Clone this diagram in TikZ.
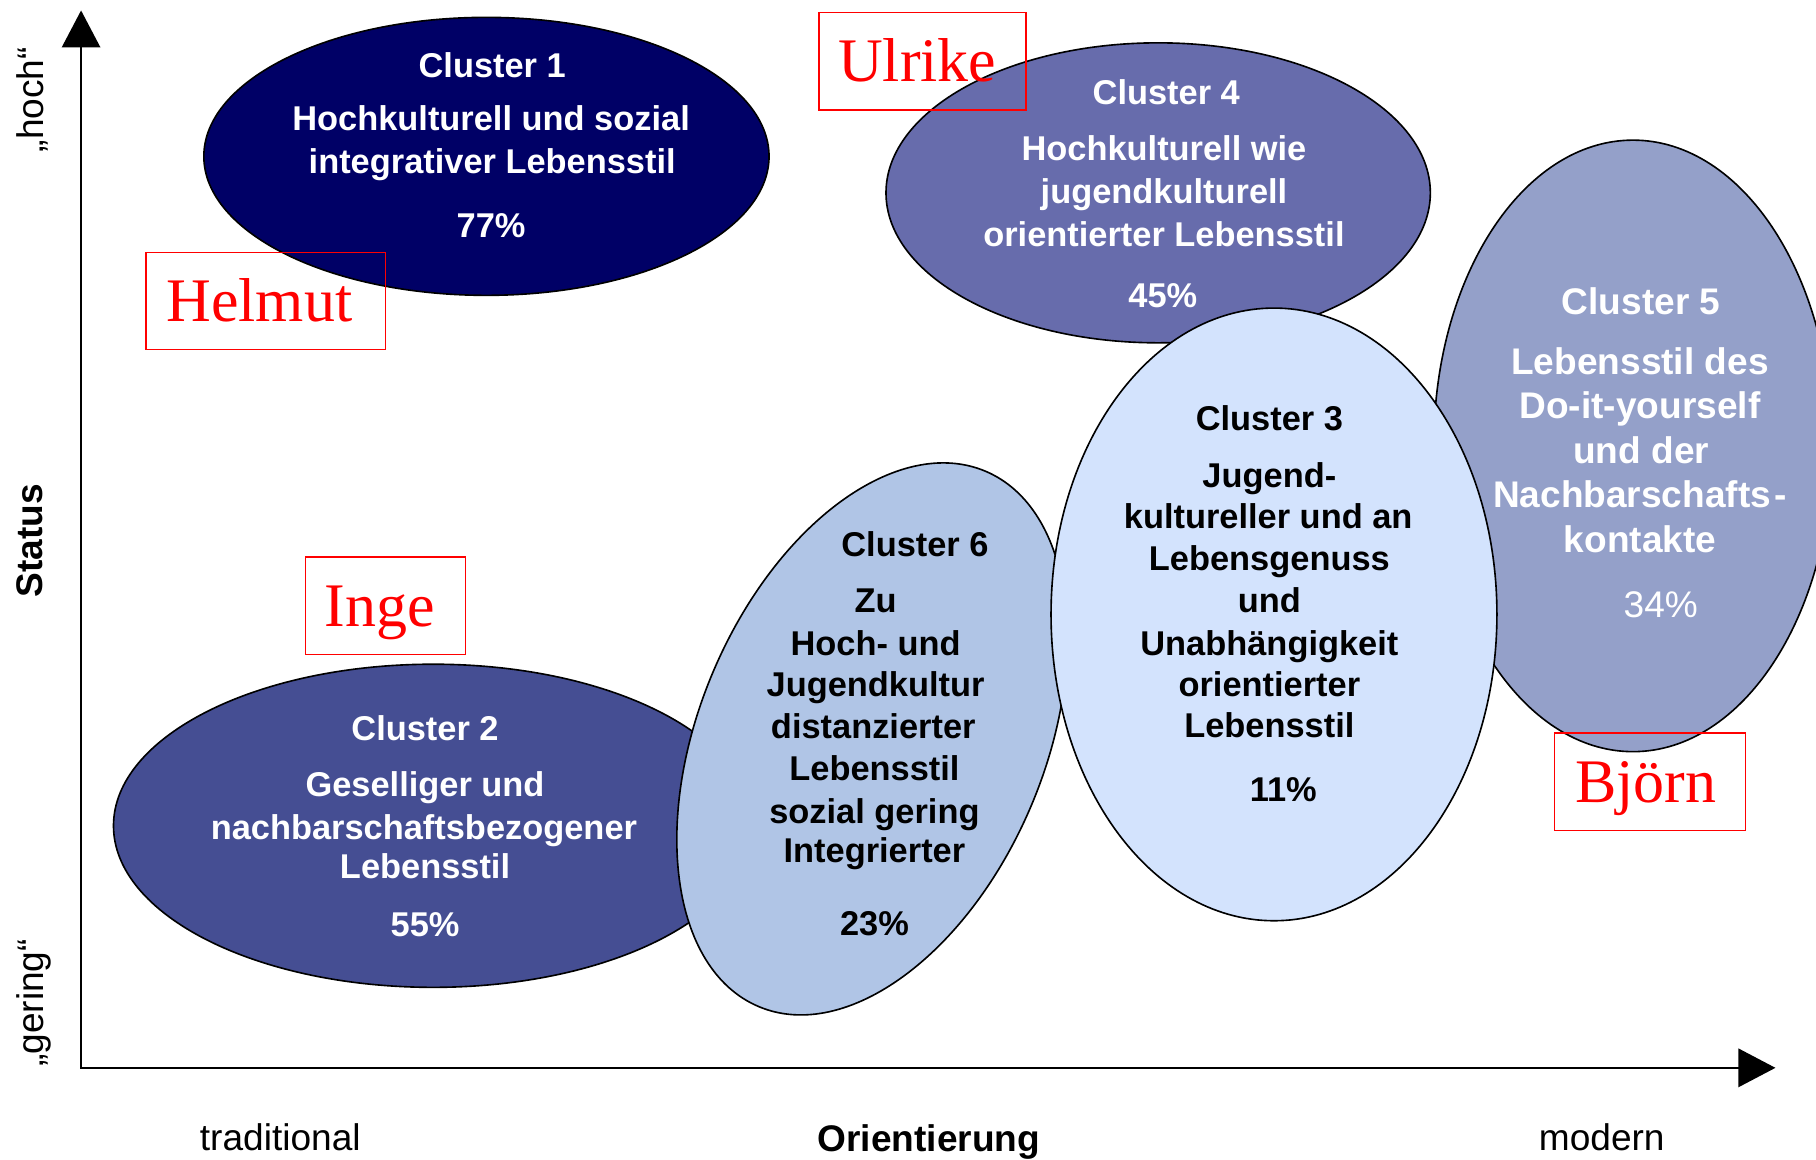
\documentclass[tikz,border=0pt]{standalone}
\usepackage{fontspec}
\setmainfont{Liberation Sans}
\newfontfamily\namefont{Liberation Serif}
\usetikzlibrary{shapes.geometric,arrows.meta}
\definecolor{cOne}{HTML}{000066}
\definecolor{cTwo}{HTML}{454E93}
\definecolor{cThree}{HTML}{D3E3FD}
\definecolor{cFour}{HTML}{676CAC}
\definecolor{cFive}{HTML}{94A0C9}
\definecolor{cSix}{HTML}{B0C5E6}
\begin{document}
\begin{tikzpicture}[x=1pt,y=-1pt,
  blob/.style={ellipse, draw=black, line width=1.4pt, inner sep=0pt, outer sep=0pt},
  lbl/.style={inner sep=0pt, text height=21.3pt, text depth=0pt, font=\fontsize{29.7}{36}\selectfont\bfseries},
  lblbig/.style={inner sep=0pt, text height=22.9pt, text depth=0pt, font=\fontsize{32}{38}\selectfont\bfseries},
  axlbl/.style={inner sep=0pt, text height=22.9pt, text depth=0pt, font=\fontsize{32}{38}\selectfont},
  namebox/.style={draw=red, line width=1.2pt, text=red, inner sep=0pt, text height=35.4pt, text depth=-5pt, minimum height=84pt, font=\namefont\fontsize{53.5}{60}\selectfont},
  axisline/.style={line width=2.3pt, arrows={Triangle[length=32pt,width=33pt]-Triangle[length=32pt,width=33pt]}}
]
\useasboundingbox (0,0) rectangle (1568,1001);
\clip (0,0) rectangle (1568,1001);

% axes
\coordinate (origin) at (70,922);
\coordinate (ytip) at (70,9);
\coordinate (xtip) at (1533,922);
\draw[axisline] (ytip) -- (origin) -- (xtip);

% ellipses
\node[blob, fill=cOne, minimum width=488pt, minimum height=240pt] (c1) at (420,135) {};
\node[blob, fill=cFour, minimum width=470pt, minimum height=259pt] (c4) at (1000,166.5) {};
\node[blob, fill=cFive, minimum width=344pt, minimum height=528pt] (c5) at (1410,385) {};
\node[blob, fill=cTwo, minimum width=552pt, minimum height=279pt] (c2) at (374,713) {};
\node[blob, fill=cSix, minimum width=298pt, minimum height=502pt, rotate=-23] (c6) at (753,638) {};
\node[blob, fill=cThree, minimum width=385pt, minimum height=529pt] (c3) at (1100,530.5) {};

% cluster 1
\foreach \t/\xx/\yy [count=\i] in {Cluster 1/425/56, Hochkulturell und sozial/424/102, integrativer Lebensstil/425/139, 77\%/424/194}
  \node[lbl, text=white] (c1l\i) at (\xx,\yy) {\t};
% cluster 4
\foreach \t/\xx/\yy [count=\i] in {Cluster 4/1007/80, Hochkulturell wie/1005/128, jugendkulturell/1005/165, orientierter Lebensstil/1005/202, 45\%/1004/255}
  \node[lbl, text=white] (c4l\i) at (\xx,\yy) {\t};
% cluster 5
\foreach \t/\xx/\yy [count=\i] in {Cluster 5/1417/260, Lebensstil des/1416/312, Do-it-yourself/1416/350, und der/1417/389, Nachbarschafts\kern3pt-/1416/427, kontakte/1416/466}
  \node[lblbig, text=white] (c5l\i) at (\xx,\yy) {\t};
\node[lblbig, text=white, font=\fontsize{32}{38}\selectfont] (c5p) at (1434,522) {34\%};
% cluster 2
\foreach \t/\xx/\yy [count=\i] in {Cluster 2/367/629, Geselliger und/367/677, nachbarschaftsbezogener/366/714, Lebensstil/367/748, 55\%/367/798}
  \node[lbl, text=white] (c2l\i) at (\xx,\yy) {\t};
% cluster 6
\foreach \t/\xx/\yy [count=\i] in {Cluster 6/790/470, Zu/756/518, Hoch- und/756/555, Jugendkultur/756/591, distanzierter/754/627, Lebensstil/755/663, sozial gering/755/700, Integrierter/755/734, 23\%/755/797}
  \node[lbl, text=black] (c6l\i) at (\xx,\yy) {\t};
% cluster 3
\foreach \t/\xx/\yy [count=\i] in {Cluster 3/1096/361, Jugend-/1096/410, kultureller und an/1095/446, Lebensgenuss/1096/482, und/1096/518, Unabhängigkeit/1096/555, orientierter/1096/591, Lebensstil/1096/626, 11\%/1108/681}
  \node[lbl, text=black] (c3l\i) at (\xx,\yy) {\t};

% names
\node[namebox, minimum width=207pt] (helmut) at (229.5,260) {Helmut\kern11pt};
\node[namebox, minimum width=179pt] (ulrike) at (796.5,53) {Ulrike\kern9pt};
\node[namebox, minimum width=138pt] (inge) at (333,523) {Inge\kern10pt};
\node[namebox, minimum width=165pt] (bjoern) at (1424.5,675) {Björn\kern7pt};

% axis labels
\node[axlbl, rotate=90] (hoch) at (26.5,86) {„hoch“};
\node[axlbl, rotate=90, font=\fontsize{32}{38}\selectfont\bfseries] (status) at (25,467) {Status};
\node[axlbl, rotate=90] (gering) at (26.5,866) {„gering“};
\node[axlbl] (trad) at (242,982) {traditional};
\node[axlbl, font=\fontsize{32}{38}\selectfont\bfseries] (orient) at (802,983) {Orientierung};
\node[axlbl] (modern) at (1383,982) {modern};
\end{tikzpicture}
\end{document}
